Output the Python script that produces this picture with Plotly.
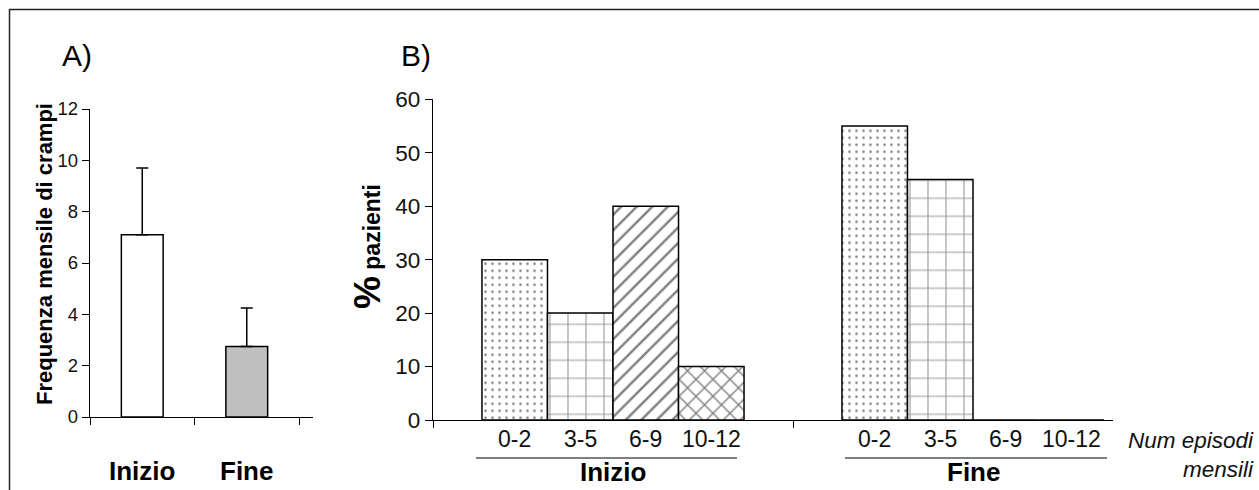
import plotly.graph_objects as go

# ---------------- data ----------------
A_labels = ["Inizio", "Fine"]
A_means = [7.1, 2.75]
A_err_up = [2.6, 1.5]
A_colors = ["white", "#c0c0c0"]
A_yticks = [0, 2, 4, 6, 8, 10, 12]

B_groups = ["Inizio", "Fine"]
B_ranges = ["0-2", "3-5", "6-9", "10-12"]
B_inizio = [30, 20, 40, 10]
B_fine = [55, 45, 0, 0]
B_yticks = [0, 10, 20, 30, 40, 50, 60]

W, H = 1259, 490
FONT = "Liberation Sans, Arial, sans-serif"


def px(x):
    return x / W


def py(y):
    return (H - y) / H


patterns = [
    dict(shape=".", size=7, solidity=0.11, fgcolor="black", bgcolor="white"),
    dict(shape="+", size=18, solidity=0.12, fgcolor="#333333", bgcolor="white"),
    dict(shape="/", size=11, solidity=0.22, fgcolor="black", bgcolor="white"),
    dict(shape="x", size=12, solidity=0.22, fgcolor="black", bgcolor="white"),
]

BARGAP = 0.272

fig = go.Figure()

# Panel A
fig.add_trace(go.Bar(
    x=list(range(len(A_labels))), y=A_means, width=0.4,
    marker=dict(color=A_colors, line=dict(color="black", width=1.5)),
    error_y=dict(type="data", symmetric=False, array=A_err_up,
                 arrayminus=[0] * len(A_err_up), color="black",
                 thickness=1.5, width=6),
    xaxis="x", yaxis="y", showlegend=False, hoverinfo="skip"))

# Panel B
for i, r in enumerate(B_ranges):
    fig.add_trace(go.Bar(
        x=list(range(len(B_groups))), y=[B_inizio[i], B_fine[i]], name=r,
        marker=dict(color="white", pattern=patterns[i],
                    line=dict(color="black", width=1.5)),
        xaxis="x2", yaxis="y2", showlegend=False, hoverinfo="skip"))

axis_common = dict(showline=True, linecolor="black", linewidth=1.3,
                   showgrid=False, zeroline=False, ticks="outside",
                   tickcolor="black", tickwidth=1.3, ticklen=7,
                   fixedrange=True, automargin=False)

fig.update_layout(
    width=W, height=H,
    margin=dict(l=0, r=0, t=0, b=0, pad=0, autoexpand=False),
    paper_bgcolor="white", plot_bgcolor="rgba(0,0,0,0)",
    barmode="group", bargap=BARGAP, bargroupgap=0,
    font=dict(family=FONT, color="#111111"),
    xaxis=dict(axis_common, domain=[px(90), px(313)], range=[-0.5, 1.634],
               tickvals=[-0.5, 0.5, 1.5], showticklabels=False, anchor="y"),
    yaxis=dict(axis_common, domain=[py(417), py(109)], range=[0, 12],
               tickvals=A_yticks, tickfont=dict(size=18.5, family=FONT),
               anchor="x"),
    xaxis2=dict(axis_common, domain=[px(433), px(1113)],
                range=[-0.5, -0.5 + 680 / 360],
                tickvals=[-0.5, 0.5], showticklabels=False, anchor="y2"),
    yaxis2=dict(axis_common, domain=[py(420), py(99.3)], range=[0, 60],
                tickvals=B_yticks, tickfont=dict(size=22.5, family=FONT),
                anchor="x2"),
)


def A(**kw):
    d = dict(showarrow=False, xanchor="center", yanchor="middle")
    d.update(kw)
    return d


ann = []
ann.append(A(text="A)", x=px(77), y=py(55), xref="paper", yref="paper",
             font=dict(size=30, family=FONT, color="black")))
ann.append(A(text="B)", x=px(416), y=py(55), xref="paper", yref="paper",
             font=dict(size=30, family=FONT, color="black")))
ann.append(A(text="<b>Frequenza mensile di crampi</b>", x=px(44), y=py(254),
             xref="paper", yref="paper", textangle=-90,
             font=dict(size=22, family=FONT, color="black")))
ann.append(A(text="<b><span style='font-size:37px'>%</span> pazienti</b>",
             x=px(367), y=py(247), xref="paper", yref="paper", textangle=-90,
             font=dict(size=23, family=FONT, color="black")))
for i, lab in enumerate(A_labels):
    ann.append(A(text="<b>%s</b>" % lab, x=i, y=py(471), xref="x", yref="paper",
                 font=dict(size=26, family=FONT, color="black")))
step = (1 - BARGAP) / len(B_ranges)
for g, grp in enumerate(B_groups):
    for i, r in enumerate(B_ranges):
        xc = g + (i - (len(B_ranges) - 1) / 2) * step
        ann.append(A(text=r, x=xc, y=py(439), xref="x2", yref="paper",
                     font=dict(size=23, family=FONT, color="#111111")))
    ann.append(A(text="<b>%s</b>" % grp, x=g, y=py(472), xref="x2", yref="paper",
                 font=dict(size=26, family=FONT, color="black")))
ann.append(A(text="<i>Num episodi<br>mensili</i>", x=px(1256), y=py(455),
             xref="paper", yref="paper", xanchor="right", align="right",
             font=dict(size=22.5, family=FONT, color="#111111")))
fig.update_layout(annotations=ann)

shapes = [
    dict(type="line", xref="paper", yref="paper", x0=px(9), x1=1, y0=py(9.5), y1=py(9.5),
         line=dict(color="#222", width=1.5)),
    dict(type="line", xref="paper", yref="paper", x0=px(9.5), x1=px(9.5), y0=0, y1=py(9),
         line=dict(color="#222", width=1.5)),
    dict(type="line", xref="paper", yref="paper", x0=px(476), x1=px(737), y0=py(458), y1=py(458),
         line=dict(color="black", width=1.2)),
    dict(type="line", xref="paper", yref="paper", x0=px(845), x1=px(1107), y0=py(458), y1=py(458),
         line=dict(color="black", width=1.2)),
]
fig.update_layout(shapes=shapes)

fig.write_html("out.html")
